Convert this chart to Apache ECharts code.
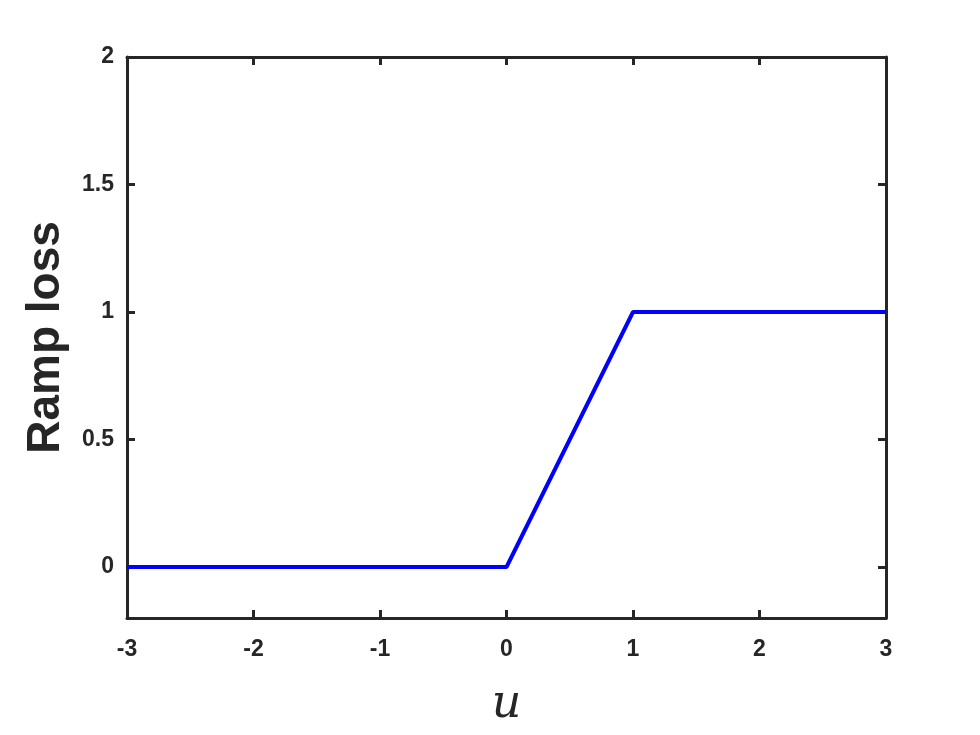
<!DOCTYPE html>
<html>
<head>
<meta charset="utf-8">
<script src="https://cdn.jsdelivr.net/npm/echarts@6/dist/echarts.min.js"></script>
<style>
  html, body { margin: 0; padding: 0; background: #fff; }
  #main { width: 980px; height: 735px; }
</style>
</head>
<body>
<div id="main"></div>
<script>
// ramp loss: 0 for u<0, u for 0<=u<=1, 1 for u>1
var uVals = [-3, 0, 1, 3];
var lossVals = [0, 0, 1, 1];
var xTicks = [-3, -2, -1, 0, 1, 2, 3];
var yTicks = [0, 0.5, 1, 1.5, 2];

var chart = echarts.init(document.getElementById('main'));
var axisColor = '#262626';
var labelFont = { color: axisColor, fontSize: 23, fontWeight: 'bold', fontFamily: 'Liberation Sans, Arial, sans-serif' };

function boxAxis(extra) {
  return Object.assign({
    type: 'value',
    axisLine: { show: true, onZero: false, lineStyle: { color: axisColor, width: 3 } },
    axisTick: { show: true, inside: true, length: 8, lineStyle: { color: axisColor, width: 3 } },
    splitLine: { show: false }
  }, extra);
}

var data = uVals.map(function (u, i) { return [u, lossVals[i]]; });

chart.setOption({
  animation: false,
  grid: { left: 127, right: 94, top: 57, bottom: 117 },
  xAxis: [
    boxAxis({
      position: 'bottom', min: -3, max: 3, interval: 1,
      axisLabel: Object.assign({ margin: 20 }, labelFont),
      name: 'u', nameLocation: 'middle', nameGap: 64,
      nameTextStyle: { fontFamily: 'DejaVu Serif, serif', fontStyle: 'italic', fontSize: 46, color: axisColor }
    }),
    boxAxis({ position: 'top', min: -3, max: 3, interval: 1, axisLabel: { show: false } })
  ],
  yAxis: [
    boxAxis({
      position: 'left', min: -0.2, max: 2,
      axisLabel: Object.assign({ margin: 13, customValues: yTicks }, labelFont),
      axisTick: { show: true, inside: true, length: 8, customValues: yTicks, lineStyle: { color: axisColor, width: 3 } },
      name: 'Ramp loss', nameLocation: 'middle', nameGap: 58,
      nameTextStyle: { fontFamily: 'Liberation Sans, Arial, sans-serif', fontWeight: 'bold', fontSize: 46, color: axisColor }
    }),
    boxAxis({
      position: 'right', min: -0.2, max: 2,
      axisLabel: { show: false },
      axisTick: { show: true, inside: true, length: 8, customValues: yTicks, lineStyle: { color: axisColor, width: 3 } }
    })
  ],
  series: [{
    type: 'line',
    data: data,
    showSymbol: false,
    symbol: 'none',
    lineStyle: { color: '#0000ff', width: 4 },
    clip: true
  }]
});
</script>
</body>
</html>
